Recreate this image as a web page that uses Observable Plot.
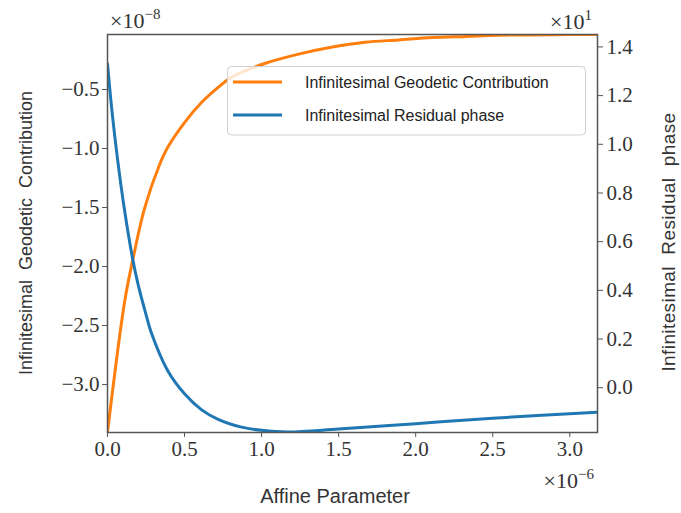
<!DOCTYPE html>
<html><head><meta charset="utf-8">
<script src="https://cdn.jsdelivr.net/npm/d3@7"></script>
<script src="https://cdn.jsdelivr.net/npm/@observablehq/plot@0.6"></script>
<style>body{margin:0;background:#fff;}</style>
</head><body><div id="chart"></div>
<script>
// Infinitesimal Geodetic Contribution (×1e-8) vs affine parameter (×1e-6)
const geoX = [0, 0.04, 0.087, 0.12, 0.163, 0.24, 0.337, 0.391, 0.50, 0.61, 0.72, 0.80, 1.02, 1.24, 1.46, 1.67, 1.89, 2.11, 2.33, 2.54, 2.98, 3.18];
const geoY = [-3.40, -2.98, -2.51, -2.23, -1.95, -1.51, -1.14, -0.99, -0.78, -0.61, -0.48, -0.40, -0.28, -0.20, -0.14, -0.10, -0.08, -0.06, -0.05, -0.04, -0.035, -0.034];
// Infinitesimal Residual phase (×10^1)
const resX = [0, 0.03, 0.065, 0.108, 0.163, 0.20, 0.25, 0.282, 0.391, 0.50, 0.609, 0.718, 0.87, 1.0, 1.17, 1.50, 2.0, 2.5, 3.18];
const resY = [1.33, 1.13, 0.94, 0.74, 0.53, 0.42, 0.30, 0.23, 0.07, -0.025, -0.09, -0.13, -0.162, -0.175, -0.182, -0.170, -0.148, -0.125, -0.101];

const xTicks = [0, 0.5, 1.0, 1.5, 2.0, 2.5, 3.0];
const leftTicks = [-3.0, -2.5, -2.0, -1.5, -1.0, -0.5];
const rightTicks = [0.0, 0.2, 0.4, 0.6, 0.8, 1.0, 1.2, 1.4];
const seriesNames = ["Infinitesimal Geodetic Contribution", "Infinitesimal Residual phase"];
const colors = ["#ff7f0e", "#1f77b4"];

const xDomain = [0, 3.18];
const leftDomain = [-3.406, -0.034];
const rightDomain = [-0.184, 1.451];
const toLeft = r => leftDomain[0] + (r - rightDomain[0]) * (leftDomain[1] - leftDomain[0]) / (rightDomain[1] - rightDomain[0]);
const fromLeft = l => rightDomain[0] + (l - leftDomain[0]) * (rightDomain[1] - rightDomain[0]) / (leftDomain[1] - leftDomain[0]);
const fmt = v => (Math.abs(v) < 1e-9 ? 0 : v).toFixed(1).replace("-", "\u2212");

const geo = geoX.map((x, i) => ({x, y: geoY[i]}));
const res = resX.map((x, i) => ({x, y: toLeft(resY[i])}));

const serif = "Liberation Serif, Times New Roman, serif";
const sans = "Liberation Sans, Arial, sans-serif";

const svg = Plot.plot({
  width: 681, height: 513,
  marginLeft: 107, marginRight: 84, marginTop: 34, marginBottom: 81,
  style: {fontFamily: serif, background: "#fff", color: "#333"},
  x: {domain: xDomain},
  y: {domain: leftDomain},
  marks: [
    Plot.line(geo, {x: "x", y: "y", stroke: colors[0], strokeWidth: 3, curve: "catmull-rom", clip: true}),
    Plot.line(res, {x: "x", y: "y", stroke: colors[1], strokeWidth: 3, curve: "catmull-rom", clip: true}),
    Plot.axisX(xTicks, {tickFormat: fmt, tickSize: 5, tickPadding: 4, fontSize: 21, fontFamily: serif, label: null, stroke: "#555"}),
    Plot.axisY(leftTicks, {tickFormat: fmt, tickSize: 5, tickPadding: 3, fontSize: 21, fontFamily: serif, label: null, stroke: "#555"}),
    Plot.axisY(rightTicks.map(toLeft), {anchor: "right", tickFormat: d => fmt(fromLeft(d)), tickSize: 5, tickPadding: 4, fontSize: 21, fontFamily: serif, label: null, stroke: "#555"}),
    Plot.frame({stroke: "#555", strokeWidth: 1.5})
  ]
});

const s = d3.select(svg);
// Legend
const lg = s.append("g");
lg.append("rect").attr("x", 227.5).attr("y", 66.5).attr("width", 358).attr("height", 68.5).attr("rx", 4)
  .attr("fill", "#fff").attr("fill-opacity", 0.8).attr("stroke", "#d0d0d0");
[82, 115].forEach((yy, i) => {
  lg.append("line").attr("x1", 233).attr("x2", 282).attr("y1", yy).attr("y2", yy).attr("stroke", colors[i]).attr("stroke-width", 3);
  lg.append("text").attr("x", 305).attr("y", yy).attr("dy", "0.35em").attr("text-anchor", "start").attr("font-family", sans).attr("font-size", 16).attr("fill", "#222").text(seriesNames[i]);
});
// Axis labels
s.append("text").attr("x", 335).attr("y", 503).attr("text-anchor", "middle").attr("font-family", sans).attr("font-size", 20).attr("fill", "#333").text("Affine Parameter");
s.append("text").attr("transform", "translate(32,233) rotate(-90)").attr("text-anchor", "middle").attr("font-family", sans).attr("font-size", 18).attr("fill", "#333").text("Infinitesimal  Geodetic  Contribution");
s.append("text").attr("transform", "translate(675,242) rotate(-90)").attr("text-anchor", "middle").attr("font-family", sans).attr("font-size", 19).attr("letter-spacing", 0.4).attr("fill", "#333").text("Infinitesimal  Residual  phase");
// Offset texts
function offset(x, y, anchor, exp) {
  const t = s.append("text").attr("x", x).attr("y", y).attr("text-anchor", anchor).attr("font-family", serif).attr("font-size", 22).attr("fill", "#333");
  t.append("tspan").text("\u00d710");
  t.append("tspan").attr("font-size", 15).attr("dy", -9).text(exp);
}
offset(110, 28, "start", "\u22128");
offset(592, 29, "end", "1");
offset(594, 488, "end", "\u22126");

document.getElementById("chart").appendChild(svg);
</script>
</body></html>
